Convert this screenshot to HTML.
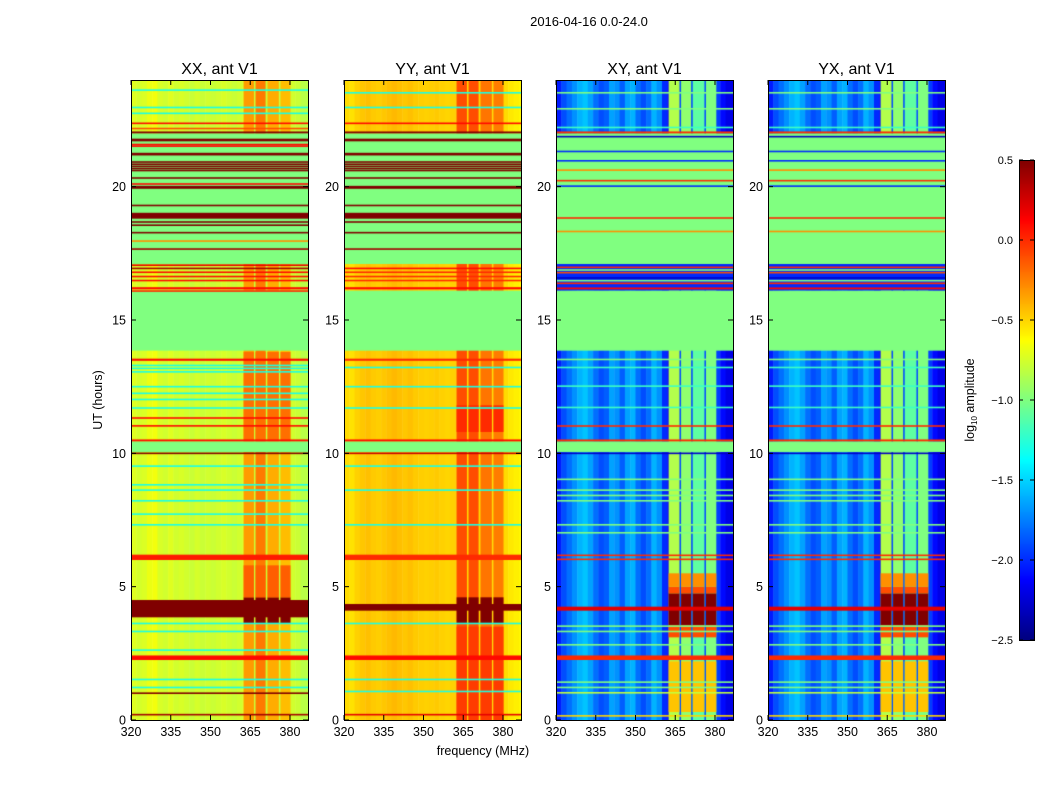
<!DOCTYPE html>
<html><head><meta charset="utf-8"><style>
body{margin:0;background:#fff;width:1050px;height:800px;position:relative;overflow:hidden;font-family:"Liberation Sans",sans-serif}
canvas{position:absolute}
svg{position:absolute;left:0;top:0}
</style></head><body>
<canvas id="c0" width="177" height="640" style="left:131px;top:80px"></canvas>
<canvas id="c1" width="177" height="640" style="left:344px;top:80px"></canvas>
<canvas id="c2" width="177" height="640" style="left:556px;top:80px"></canvas>
<canvas id="c3" width="177" height="640" style="left:768px;top:80px"></canvas>
<canvas id="cb" width="15" height="480" style="left:1019px;top:160px"></canvas>
<svg id="ov" width="1050" height="800"></svg>
<script>
// ---- data ----
const panelTitles = ["XX, ant V1","YY, ant V1","XY, ant V1","YX, ant V1"];
const xTicks = [320,335,350,365,380];
const yTicks = [0,5,10,15,20];
const cbTicks = [0.5,0.0,-0.5,-1.0,-1.5,-2.0,-2.5];
const baseLevels = [-0.78,-0.52,-1.9,-1.9];
// stripe offsets per 2 MHz bin from 320 MHz
const stripesXX = [0.06,0.03,0.05,0.1,0.12,0.04,0.02,0.06,0.02,0.04,0.02,0,0.03,0,0.02,0,0.02,0.04,0.02,0,0.02,0.05,0,0,0,0,0,0,0,0,0.02,0,-0.05,-0.05];
const stripesYY = [0.0,-0.02,0.03,0.06,0.08,0.05,0.04,0.06,0.08,0.1,0.08,0.06,0.08,0.05,0.04,0.03,0.04,0.05,0.03,0.02,0.03,0.05,0,0,0,0,0,0,0,0,0,-0.04,-0.06,-0.08];
const stripesXY = [-0.15,0,0.1,0.2,0.3,0.35,0.25,0.1,0,0.05,0.25,0.2,0.05,0.25,0.3,0.1,0,0.1,0.3,0.2,-0.1,-0.25,0,0,0,0,0,0,0,0,-0.05,-0.2,-0.3,-0.3];
const stripesYX = stripesXY;
// bright channel columns [f0,f1,offset]
const chansXX = [[362.5,366.4,0.45],[367,370.8,0.55],[371.5,375.8,0.4],[376.4,380.2,0.35]];
const chansYY = [[362.5,366.4,0.42],[367,370.8,0.42],[371.5,375.8,0.3],[376.4,380.2,0.28]];
const chansXY = [[362.5,366.6,1.05],[367.2,371,0.95],[371.6,376,0.8],[376.6,380.5,0.9]];
const chansYX = [[362.5,366.6,1.05],[367.2,371,0.95],[371.6,376,0.8],[376.6,380.5,0.9]];
// boosts inside channel columns [t0,t1,value]
const boostXX = [[3.6,4.6,0.5],[4.6,5.8,-0.15],[10.5,13.8,-0.2]];
const boostYY = [[3.6,4.6,0.5],[0,3.5,-0.05],[10.8,11.8,0.0]];
const boostXY = [[3.55,4.75,0.5],[4.75,5.0,-0.1],[5.0,5.5,-0.3],[3.1,3.55,-0.1],[0.3,2.2,-0.45]];
const boostYX = [[3.55,4.75,0.5],[4.75,5.0,-0.1],[5.0,5.5,-0.3],[3.1,3.55,-0.1],[0.3,2.2,-0.45]];
// full-width bands [t0,t1,value]
const bandsXX = [[17.1,22.0,-1.0],[13.85,16.1,-1.0],[10.05,10.45,-1.0],[10.45,10.52,0.1],[9.97,10.03,0.5],
 [22.0,22.07,0.5],[21.7,21.8,0.5],[21.56,21.6,0.1],[21.5,21.54,0.1],[21.17,21.27,0.5],[20.9,20.95,0.5],[20.82,20.86,0.5],[20.74,20.78,0.5],[20.66,20.7,0.5],[20.58,20.63,0.5],
 [20.3,20.35,0.5],[20.08,20.12,0.1],[19.92,20.03,0.5],[19.27,19.32,0.5],[18.8,19.02,0.5],[18.65,18.7,0.5],[18.53,18.58,0.5],[18.25,18.3,0.5],[17.94,17.98,-0.3],[17.64,17.68,0.4],
 [17.03,17.08,0.2],[16.91,16.96,0.4],[16.77,16.81,0.1],[16.61,16.65,0.1],[16.46,16.5,0.1],[16.15,16.23,0.1],[16.06,16.11,0.0],
 [13.47,13.55,0.1],[13.28,13.31,-1.3],[13.17,13.2,-1.3],[13.04,13.07,-1.3],[12.48,12.52,-1.3],[12.23,12.27,-1.3],[23.6,23.64,-1.3],[22.95,22.99,-1.3],[22.73,22.77,-1.3],[22.35,22.4,0.1],[22.16,22.2,-0.1],
 [11.0,11.06,0.1],[11.3,11.35,0.1],[11.68,11.72,-1.3],[12.0,12.04,-1.3],[9.5,9.54,-1.3],[8.8,8.84,-1.3],[8.6,8.64,-1.3],[8.2,8.24,-1.3],[7.7,7.74,-1.3],[7.3,7.34,-1.3],
 [6.0,6.2,0.05],[3.85,4.5,0.5],[3.6,3.64,-1.3],[3.3,3.34,-1.3],[2.6,2.64,-1.3],[2.25,2.42,0.1],[1.5,1.54,-1.3],[1.2,1.24,-1.3],[0.98,1.03,0.5],[0.18,0.22,0.4]];
const bandsYY = [[17.1,22.0,-1.0],[13.85,16.1,-1.0],[10.05,10.45,-1.0],[10.45,10.52,0.1],[9.97,10.03,0.3],
 [22.0,22.07,0.5],[21.7,21.8,0.5],[21.17,21.27,0.5],[20.9,20.95,0.5],[20.82,20.86,0.5],[20.74,20.78,0.5],[20.66,20.7,0.5],[20.58,20.63,0.5],
 [20.3,20.35,0.5],[19.92,20.03,0.5],[19.27,19.32,0.5],[18.8,19.02,0.5],[18.65,18.7,0.5],[18.25,18.3,0.5],[17.64,17.68,0.4],
 [16.91,16.96,0.1],[16.77,16.81,0.0],[16.61,16.65,0.0],[16.46,16.5,0.0],[16.15,16.23,0.1],
 [13.47,13.55,0.0],[13.2,13.24,-1.3],[12.48,12.52,-1.3],[23.5,23.54,-1.3],[22.95,22.99,-1.3],[22.35,22.4,0.1],
 [11.68,11.72,-1.3],[9.5,9.54,-1.3],[8.6,8.64,-1.3],[7.3,7.34,-1.3],[6.0,6.2,0.0],[4.1,4.35,0.5],[3.6,3.64,-1.3],[2.25,2.42,0.1],[1.5,1.54,-1.3],[1.05,1.09,-1.3],[0.18,0.22,0.2]];
const bandsXY = [[17.1,22.0,-1.0],[16.1,17.1,-2.0],[13.85,16.1,-1.0],[10.05,10.45,-1.0],[10.45,10.52,0.0],[9.97,10.03,-2.3],
 [22.0,22.07,0.0],[21.85,21.9,-2.3],[21.3,21.34,-2.0],[20.95,20.99,-2.0],[20.6,20.64,-0.3],[20.2,20.25,0.0],[20.0,20.04,-2.0],[18.8,18.85,0.0],[18.3,18.34,-0.3],
 [16.95,17.0,0.0],[16.85,16.9,-1.0],[16.75,16.8,-0.1],[16.55,16.6,-2.3],[16.45,16.5,-1.0],[16.35,16.4,0.0],[16.15,16.22,0.1],
 [23.5,23.54,-1.0],[22.9,22.94,-1.0],[22.2,22.24,-1.2],[13.5,13.54,-1.0],[13.2,13.24,-1.2],[12.5,12.54,-1.2],[11.7,11.74,-1.2],[11.0,11.05,0.0],
 [9.0,9.05,-1.0],[8.6,8.64,-1.0],[8.4,8.44,-1.0],[8.2,8.24,-1.0],[7.3,7.34,-1.0],[7.0,7.04,-1.0],[6.15,6.2,0.0],[6.0,6.05,0.0],
 [4.1,4.25,0.2],[3.5,3.54,-1.0],[3.3,3.34,-1.0],[2.8,2.84,-1.0],[2.25,2.42,0.0],[1.4,1.44,-1.0],[1.2,1.24,-1.0],[1.0,1.04,-0.8],[0.13,0.18,-0.5]];
const bandsYX = bandsXY;

const panels = [
 {base:baseLevels[0],stripes:stripesXX,chans:chansXX,boost:boostXX,bands:bandsXX},
 {base:baseLevels[1],stripes:stripesYY,chans:chansYY,boost:boostYY,bands:bandsYY},
 {base:baseLevels[2],stripes:stripesXY,chans:chansXY,boost:boostXY,bands:bandsXY},
 {base:baseLevels[3],stripes:stripesYX,chans:chansYX,boost:boostYX,bands:bandsYX}];

// ---- scales ----
const LEFTS=[131,344,556,768], TOP=80, W=177, H=640, FMIN=320, FMAX=386.8, TMAX=24;
const xs=f=>(f-FMIN)/(FMAX-FMIN)*W;
const ys=t=>(TMAX-t)/TMAX*H;
const VMIN=-2.5,VMAX=0.5;
function jet(v){let x=Math.max(0,Math.min(1,(v-VMIN)/(VMAX-VMIN)));
 const c=q=>Math.round(255*Math.max(0,Math.min(1,1.5-Math.abs(4*x-q))));
 return `rgb(${c(3)},${c(2)},${c(1)})`;}
function rectT(ctx,t0,t1,x0,x1,v){ctx.fillStyle=jet(v);let y0=ys(t1),y1=ys(t0);if(y1-y0<1.6){const m=(y0+y1)/2;y0=m-0.8;y1=m+0.8;}ctx.fillRect(x0,y0,x1-x0,y1-y0);}

panels.forEach((p,i)=>{
 const ctx=document.getElementById('c'+i).getContext('2d');
 p.stripes.forEach((s,k)=>{const f0=FMIN+2*k;rectT(ctx,0,24,xs(f0),xs(f0+2)+0.5,p.base+s);});
 p.chans.forEach(c=>{
  rectT(ctx,0,24,xs(c[0]),xs(c[1]),p.base+c[2]);
  p.boost.forEach(b=>rectT(ctx,b[0],b[1],xs(c[0]),xs(c[1]),b[2]));
 });
 p.bands.forEach(b=>rectT(ctx,b[0],b[1],0,W,b[2]));
});
// colorbar
const cb=document.getElementById('cb').getContext('2d');
for(let y=0;y<480;y++){cb.fillStyle=jet(VMAX-(y+0.5)/480*(VMAX-VMIN));cb.fillRect(0,y,15,1);}

// ---- overlay ----
const ov=document.getElementById('ov'),NS='http://www.w3.org/2000/svg';
function el(tag,attrs,txt){const e=document.createElementNS(NS,tag);for(const k in attrs)e.setAttribute(k,attrs[k]);if(txt!==undefined)e.textContent=txt;ov.appendChild(e);return e;}
let t=el('text',{x:589,y:26,'text-anchor':'middle','font-size':13},'2016-04-16 0.0-24.0');


LEFTS.forEach((L,i)=>{
 const fr=el('rect',{x:L+0.5,y:TOP+0.5,width:W,height:H,fill:'none',stroke:'#000','stroke-width':1});
 
 
 const tt=el('text',{x:L+W/2,y:74,'text-anchor':'middle','font-size':16},panelTitles[i]);
 
 
 xTicks.forEach(f=>{const x=L+xs(f);
  el('line',{x1:x,x2:x,y1:TOP+H,y2:TOP+H-5,stroke:'#000'});el('line',{x1:x,x2:x,y1:TOP,y2:TOP+5,stroke:'#000'});
  const lb=el('text',{x:x,y:TOP+H+16,'text-anchor':'middle','font-size':12.5},String(f));
  
  });
 yTicks.forEach(v=>{const y=TOP+ys(v);
  el('line',{x1:L,x2:L+5,y1:y,y2:y,stroke:'#000'});el('line',{x1:L+W,x2:L+W-5,y1:y,y2:y,stroke:'#000'});
  const lb=el('text',{x:L-5,y:y+4.5,'text-anchor':'end','font-size':12.5},String(v));
  
  });
});
t=el('text',{x:483,y:755,'text-anchor':'middle','font-size':12.5},'frequency (MHz)');


t=el('text',{x:0,y:0,'text-anchor':'middle','font-size':12.5,transform:'translate(102,400) rotate(-90)'},'UT (hours)');


const cf=el('rect',{x:1019.5,y:160.5,width:15,height:480,fill:'none',stroke:'#000'});


cbTicks.forEach(v=>{const y=160+(VMAX-v)/(VMAX-VMIN)*480;
 el('line',{x1:1019,x2:1023,y1:y,y2:y,stroke:'#000'});el('line',{x1:1034,x2:1030,y1:y,y2:y,stroke:'#000'});
 const lb=el('text',{x:1013,y:y+4,'text-anchor':'end','font-size':11},v.toFixed(1).replace('-','\u2212'));
 
 });
t=el('text',{x:0,y:0,'text-anchor':'middle','font-size':12.5,transform:'translate(974,400) rotate(-90)'});


t.innerHTML='log<tspan font-size="8" dy="3">10</tspan><tspan dy="-3"> amplitude</tspan>';
</script>
</body></html>
